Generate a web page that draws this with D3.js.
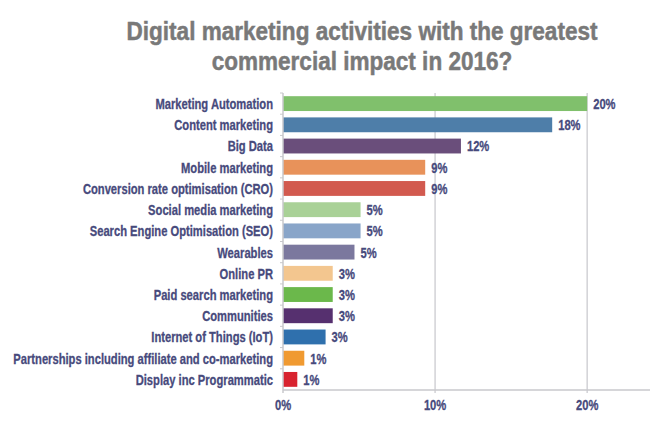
<!DOCTYPE html>
<html>
<head>
<meta charset="utf-8">
<script src="https://cdn.jsdelivr.net/npm/d3@7"></script>
<style>
  body { margin: 0; background: #fff; }
  svg text { font-family: "Liberation Sans", Arial, sans-serif; font-weight: bold; }
</style>
</head>
<body>
<svg id="chart" width="650" height="434"></svg>
<script>
// data (bar length in %)
const categories = [
    "Marketing Automation",
    "Content marketing",
    "Big Data",
    "Mobile marketing",
    "Conversion rate optimisation (CRO)",
    "Social media marketing",
    "Search Engine Optimisation (SEO)",
    "Wearables",
    "Online PR",
    "Paid search marketing",
    "Communities",
    "Internet of Things (IoT)",
    "Partnerships including affiliate and co-marketing",
    "Display inc Programmatic"
];
const values = [20, 17.7, 11.7, 9.35, 9.35, 5.1, 5.1, 4.7, 3.27, 3.27, 3.27, 2.8, 1.4, 0.94];
const colors = ["#80c06c", "#4e7ea9", "#6a4e7b", "#e8925a", "#d25a4f", "#a9d197", "#89a5c9",
                "#7b789e", "#f3c68f", "#6bb84b", "#56306f", "#2f70ad", "#f09a31", "#d8232f"];
const xTicks = [0, 10, 20];
const title = ["Digital marketing activities with the greatest", "commercial impact in 2016?"];

const svg = d3.select("#chart");
const labelColor = "#474a7c";

/* ------------------------------
   SCALES
------------------------------ */

const x = d3.scaleLinear().domain([0, 24]).range([283, 648]);
const y = d3.scaleBand().domain(categories).range([93, 390])
    .paddingInner(0.3).paddingOuter(0.15);

/* the source uses a condensed face, so squeeze a regular one horizontally */
function squeeze(sel, k) {
    sel.attr("transform", function () {
        const px = +this.getAttribute("data-x"), py = +this.getAttribute("data-y");
        return "translate(" + px + "," + py + ") scale(" + k + ",1)";
    });
}

function measure(txt, size) {
    const t = svg.append("text").style("font-size", size + "px").text(txt);
    const w = t.node().getComputedTextLength();
    t.remove();
    return w;
}

const kTitle = 471 / measure(title[0], 26);
const kLabel = 260 / measure(categories[12], 15);

/* title */
svg.append("g").selectAll("text")
    .data(title)
    .enter()
    .append("text")
    .attr("data-x", 362)
    .attr("data-y", (d, i) => 40 + i * 30)
    .attr("text-anchor", "middle")
    .style("font-size", "26px")
    .style("fill", "#797979")
    .style("stroke", "#797979")
    .style("stroke-width", 0.5)
    .text(d => d)
    .call(squeeze, kTitle);

/* gridlines */
svg.append("g").selectAll("line")
    .data(xTicks.slice(1))
    .enter()
    .append("line")
    .attr("x1", d => x(d)).attr("x2", d => x(d))
    .attr("y1", 93).attr("y2", 393)
    .style("stroke", "#d2d2d6")
    .style("stroke-width", 1.5);

/* bars */
svg.append("g").selectAll("rect")
    .data(values)
    .enter()
    .append("rect")
    .attr("x", x(0))
    .attr("y", (d, i) => y(categories[i]))
    .attr("width", d => x(d) - x(0))
    .attr("height", y.bandwidth())
    .style("fill", (d, i) => colors[i]);

/* value labels */
svg.append("g").selectAll("text")
    .data(values)
    .enter()
    .append("text")
    .attr("data-x", d => x(d) + 6)
    .attr("data-y", (d, i) => y(categories[i]) + y.bandwidth() / 2)
    .attr("dy", "0.36em")
    .style("font-size", "15px")
    .style("fill", labelColor)
    .style("stroke", labelColor)
    .style("stroke-width", 0.3)
    .text(d => Math.round(d) + "%")
    .call(squeeze, kLabel);

/* category labels */
svg.append("g").selectAll("text")
    .data(categories)
    .enter()
    .append("text")
    .attr("data-x", 273)
    .attr("data-y", d => y(d) + y.bandwidth() / 2)
    .attr("dy", "0.36em")
    .attr("text-anchor", "end")
    .style("font-size", "15px")
    .style("fill", labelColor)
    .style("stroke", labelColor)
    .style("stroke-width", 0.3)
    .text(d => d)
    .call(squeeze, kLabel);

/* axes */
const axisColor = "#c8c8cc";
svg.append("line")
    .attr("x1", x(0)).attr("x2", 650)
    .attr("y1", 390).attr("y2", 390)
    .style("stroke", axisColor).style("stroke-width", 1.5);
svg.append("line")
    .attr("x1", x(0)).attr("x2", x(0))
    .attr("y1", 93).attr("y2", 393)
    .style("stroke", axisColor).style("stroke-width", 1.5);

// small ticks between the bands
const step = y.step();
svg.append("g").selectAll("line")
    .data(categories)
    .enter()
    .append("line")
    .attr("x1", x(0) - 3).attr("x2", x(0))
    .attr("y1", d => y(d) - step * y.paddingInner() / 2)
    .attr("y2", d => y(d) - step * y.paddingInner() / 2)
    .style("stroke", axisColor);

svg.append("g").selectAll("text")
    .data(xTicks)
    .enter()
    .append("text")
    .attr("data-x", d => x(d))
    .attr("data-y", 410)
    .attr("text-anchor", "middle")
    .style("font-size", "15px")
    .style("fill", labelColor)
    .style("stroke", labelColor)
    .style("stroke-width", 0.3)
    .text(d => d + "%")
    .call(squeeze, kLabel);
</script>
</body>
</html>
